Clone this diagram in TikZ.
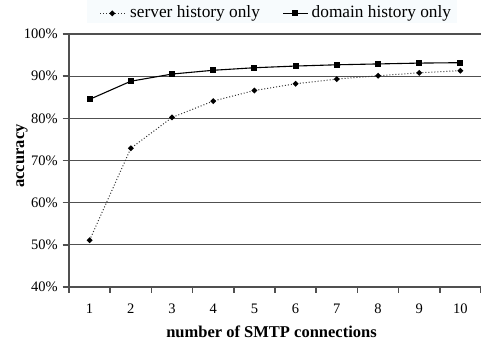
\documentclass[tikz,border=0pt]{standalone}
\usepackage{fontspec}
\setmainfont{Liberation Serif}
\definecolor{legendbg}{RGB}{247,251,253}
\definecolor{gridcol}{RGB}{80,80,80}
\begin{document}
\begin{tikzpicture}[x=1bp,y=-1bp,
  gridline/.style={draw=gridcol,line width=1.2bp},
  axisline/.style={draw=gridcol,line width=1.5bp},
  ticklab/.style={font=\fontsize{14.5bp}{16bp}\selectfont,inner sep=0pt},
  titlelab/.style={font=\fontsize{16.5bp}{18bp}\selectfont\bfseries,inner sep=0pt},
  legendlab/.style={font=\fontsize{17.3bp}{19bp}\selectfont,inner sep=0pt},
  serverline/.style={draw=black!80,line width=1bp,dash pattern=on 1bp off 2bp},
  domainline/.style={draw=black,line width=1.1bp},
  sqmark/.style={fill=black},
  dmmark/.style={fill=black}]
\useasboundingbox (0,0) rectangle (481,341);
% plot geometry: x from 69 to 481 (10 categories), y: 40% at 287, 100% at 34
\def\xl{69}
\def\cw{41.2}
\def\ybase{287}
\def\ys{4.2167}

% legend
\fill[legendbg] (87,0) rectangle (457,23);
\coordinate (ls1) at (100,13.3);
\coordinate (ls2) at (127,13.3);
\coordinate (ld1) at (283,13.3);
\coordinate (ld2) at (308,13.3);
\draw[serverline] (ls1) -- (ls2);
\draw[domainline] (ld1) -- (ld2);
\fill[dmmark] (112.3,13.3) +(-3,0) -- +(0,-3) -- +(3,0) -- +(0,3) -- cycle;
\fill[sqmark] (295,13.3) +(-3,-3) rectangle +(3,3);
\node[legendlab,anchor=base west] (legs) at (130,17.3) {server history only};
\node[legendlab,anchor=base west] (legd) at (311.5,17.3) {domain history only};

% grid lines and y labels
\foreach \v in {50,60,70,80,90,100}{
  \pgfmathsetmacro{\yy}{\ybase-(\v-40)*\ys}
  \draw[gridline] (\xl,\yy) -- (481,\yy);
}
\foreach \v in {40,50,60,70,80,90,100}{
  \pgfmathsetmacro{\yy}{\ybase-(\v-40)*\ys}
  \pgfmathsetmacro{\yb}{\yy+4.8}
  \draw[axisline] (62.5,\yy) -- (\xl,\yy);
  \node[ticklab,anchor=base east] (yl\v) at (58,\yb) {\v\%};
}
% axes
\draw[axisline] (\xl,34) -- (\xl,\ybase) -- (481,\ybase);
\foreach \k in {0,...,10}{
  \pgfmathsetmacro{\xx}{\xl+\k*\cw}
  \draw[axisline] (\xx,\ybase) -- (\xx,{\ybase+5.5});
}
\foreach \k in {1,...,10}{
  \pgfmathsetmacro{\xx}{\xl+(\k-0.5)*\cw}
  \node[ticklab,anchor=base] (xl\k) at (\xx,313) {\k};
}
\node[titlelab,anchor=base] (xtitle) at (271.5,337) {number of SMTP connections};
\node[titlelab,anchor=base,rotate=90] (ytitle) at (24,156) {accuracy};

% data points
\foreach \k/\s/\d in {1/51.1/84.5, 2/72.9/88.8, 3/80.2/90.5, 4/84.1/91.4, 5/86.6/92.0,
                      6/88.2/92.4, 7/89.3/92.7, 8/90.1/92.9, 9/90.8/93.1, 10/91.3/93.2}{
  \pgfmathsetmacro{\xx}{\xl+(\k-0.5)*\cw}
  \pgfmathsetmacro{\sy}{\ybase-(\s-40)*\ys}
  \pgfmathsetmacro{\dy}{\ybase-(\d-40)*\ys}
  \coordinate (s\k) at (\xx,\sy);
  \coordinate (d\k) at (\xx,\dy);
}
\draw[serverline] (s1) -- (s2) -- (s3) -- (s4) -- (s5) -- (s6) -- (s7) -- (s8) -- (s9) -- (s10);
\draw[domainline] (d1) -- (d2) -- (d3) -- (d4) -- (d5) -- (d6) -- (d7) -- (d8) -- (d9) -- (d10);
\foreach \k in {1,...,10}{
  \fill[dmmark] (s\k) +(-3,0) -- +(0,-3) -- +(3,0) -- +(0,3) -- cycle;
  \fill[sqmark] (d\k) +(-3,-3) rectangle +(3,3);
}
\end{tikzpicture}
\end{document}
